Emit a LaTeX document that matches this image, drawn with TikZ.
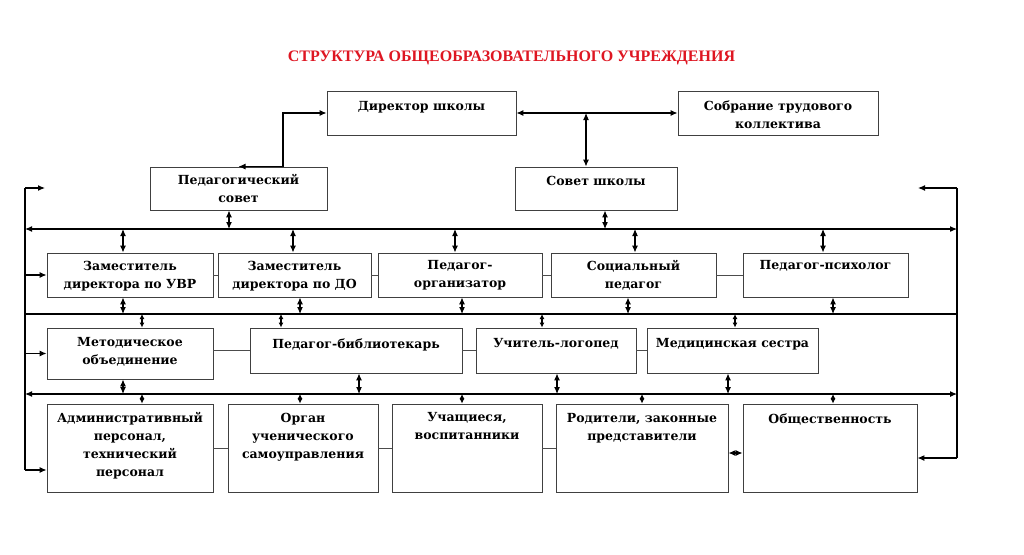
\documentclass[tikz,border=0pt]{standalone}
\usepackage{fontspec}
\setmainfont{Liberation Serif}
\newfontfamily\boxfont{DejaVu Serif}
\usetikzlibrary{arrows.meta}

\begin{document}
\begin{tikzpicture}[
        x=1pt, y=-1pt,
        >={Latex[length=7pt, width=6pt]},
        line cap=butt,
        unit/.style={draw=black!75, line width=0.9pt, inner sep=0pt},
        unit text/.style={font=\boxfont\fontsize{12.5}{18}\selectfont\bfseries, align=center, anchor=north, inner sep=0pt},
        bus/.style={line width=1.1pt},
        link/.style={line width=0.8pt, black!70},
        feed/.style={->, line width=1.1pt},
        duplex/.style={<->, line width=1.1pt},
        short duplex/.style={{Latex[length=5pt, width=5pt]}-{Latex[length=5pt, width=5pt]}, line width=1.1pt},
    ]
    \useasboundingbox (0,0) rectangle (1024,554);

    \node[font=\fontsize{16}{18}\selectfont\bfseries, text={rgb,255:red,222;green,22;blue,34}] (title) at (511.5,58)
        {СТРУКТУРА ОБЩЕОБРАЗОВАТЕЛЬНОГО УЧРЕЖДЕНИЯ};

    % Governing bodies
    \node[unit, minimum width=189, minimum height=44] (director) at (421.5,113) {};
    \node[unit, minimum width=200, minimum height=44] (assembly) at (778,113) {};
    \node[unit, minimum width=177, minimum height=43] (pedcouncil) at (238.5,188.5) {};
    \node[unit, minimum width=162, minimum height=43] (schcouncil) at (596,188.5) {};

    \node[unit text] (director text) at ([yshift=-11pt]director.north) {Директор школы};
    \node[unit text] (assembly text) at ([yshift=-10pt]assembly.north) {Собрание трудового\\коллектива};
    \node[unit text] (pedcouncil text) at ([yshift=-8pt]pedcouncil.north) {Педагогический\\совет};
    \node[unit text] (schcouncil text) at ([yshift=-9pt]schcouncil.north) {Совет школы};

    % Deputies and specialists
    \node[unit, minimum width=166, minimum height=44] (deputyuvr) at (130,275) {};
    \node[unit, minimum width=153, minimum height=44] (deputydo) at (294.5,275) {};
    \node[unit, minimum width=164, minimum height=44] (organizer) at (460,275) {};
    \node[unit, minimum width=165, minimum height=44] (social) at (633.5,275) {};
    \node[unit, minimum width=165, minimum height=44] (psych) at (825.5,275) {};

    \node[unit text] (deputyuvr text) at ([yshift=-8pt]deputyuvr.north) {Заместитель\\директора по УВР};
    \node[unit text] (deputydo text) at ([yshift=-8pt]deputydo.north) {Заместитель\\директора по ДО};
    \node[unit text] (organizer text) at ([yshift=-8pt]organizer.north) {Педагог-\\организатор};
    \node[unit text] (social text) at ([yshift=-8pt]social.north) {Социальный\\педагог};
    \node[unit text] (psych text) at ([yshift=-8pt]psych.north) {Педагог-психолог};

    \node[unit, minimum width=166, minimum height=51] (method) at (130,353.5) {};
    \node[unit, minimum width=212, minimum height=45] (librarian) at (356,350.5) {};
    \node[unit, minimum width=160, minimum height=45] (speech) at (556,350.5) {};
    \node[unit, minimum width=171, minimum height=45] (nurse) at (732.5,350.5) {};

    \node[unit text] (method text) at ([yshift=-10pt]method.north) {Методическое\\объединение};
    \node[unit text] (librarian text) at ([yshift=-11pt]librarian.north) {Педагог-библиотекарь};
    \node[unit text] (speech text) at ([yshift=-11pt]speech.north) {Учитель-логопед};
    \node[unit text] (nurse text) at ([yshift=-11pt]nurse.north) {Медицинская сестра};

    % Participants
    \node[unit, minimum width=166, minimum height=88] (staff) at (130,448) {};
    \node[unit, minimum width=150, minimum height=88] (selfgov) at (303,448) {};
    \node[unit, minimum width=150, minimum height=88] (pupils) at (467,448) {};
    \node[unit, minimum width=172, minimum height=88] (parents) at (642,448) {};
    \node[unit, minimum width=174, minimum height=88] (public) at (830,448) {};

    \node[unit text] (staff text) at ([yshift=-9pt]staff.north) {Административный\\персонал,\\технический\\персонал};
    \node[unit text] (selfgov text) at ([yshift=-9pt]selfgov.north) {Орган\\ученического\\самоуправления};
    \node[unit text] (pupils text) at ([yshift=-9pt]pupils.north) {Учащиеся,\\воспитанники};
    \node[unit text] (parents text) at ([yshift=-10pt]parents.north) {Родители, законные\\представители};
    \node[unit text] (public text) at ([yshift=-10pt]public.north) {Общественность};

    % Bus lines and side rails
    \coordinate (rail l top) at (25,188);
    \coordinate (rail l bot) at (25,470);
    \coordinate (rail r top) at (957,188);
    \coordinate (rail r bot) at (957,458);
    \coordinate (bus1 l) at (25,229);
    \coordinate (bus1 r) at (957,229);
    \coordinate (bus2 l) at (25,314);
    \coordinate (bus2 r) at (957,314);
    \coordinate (bus3 l) at (25,394);
    \coordinate (bus3 r) at (957,394);
    \coordinate (junction) at (586,113);

    \draw[bus] (rail l top) -- (rail l bot);
    \draw[bus] (rail r top) -- (rail r bot);
    \draw[duplex] (bus1 l) -- (bus1 r);
    \draw[bus] (bus2 l) -- (bus2 r);
    \draw[duplex] (bus3 l) -- (bus3 r);

    \draw[feed] (rail l top) -- ++(20,0);
    \draw[feed] (rail r top) -- ++(-39,0);
    \draw[feed] (rail l top |- deputyuvr.west) -- (deputyuvr.west);
    \draw[feed] (rail l top |- method.west) -- (method.west);
    \draw[feed] (rail l bot) -- (rail l bot -| staff.west);
    \draw[feed] (rail r bot) -- (rail r bot -| public.east);

    % Top of the chart
    \draw[duplex] (director.east) -- (assembly.west);
    \draw[duplex] (junction) -- (junction |- schcouncil.north);
    \draw[duplex] (pedcouncil.north) -- ++(44.5,0) |- (director.west);
    \draw[duplex] ([xshift=-9.5pt]pedcouncil.south) -- ([xshift=-9.5pt]pedcouncil.south |- bus1 l);
    \draw[duplex] ([xshift=9pt]schcouncil.south) -- ([xshift=9pt]schcouncil.south |- bus1 l);

    % Bus 1 to deputies and specialists
    \foreach \unit/\dx in {deputyuvr/-7, deputydo/-1.5, organizer/-5, social/1.5, psych/-2.5}
        \draw[duplex] ([xshift=\dx pt]\unit.north |- bus1 l) -- ([xshift=\dx pt]\unit.north);
    \foreach \unit/\dx in {deputyuvr/-7, deputydo/5.5, organizer/2, social/-5.5, psych/7.5}
        \draw[duplex] ([xshift=\dx pt]\unit.south) -- ([xshift=\dx pt]\unit.south |- bus2 l);

    % Bus 2 to the third row, third row to bus 3
    \foreach \unit/\dx in {method/12, librarian/-75, speech/-14, nurse/2.5}
        \draw[short duplex] ([xshift=\dx pt]\unit.north |- bus2 l) -- ([xshift=\dx pt]\unit.north);
    \foreach \unit/\dx in {method/-7, librarian/3, speech/1, nurse/-4.5}
        \draw[duplex] ([xshift=\dx pt]\unit.south) -- ([xshift=\dx pt]\unit.south |- bus3 l);

    % Bus 3 to participants
    \foreach \unit/\dx in {staff/12, selfgov/-3, pupils/-5, parents/0, public/3}
        \draw[short duplex] ([xshift=\dx pt]\unit.north |- bus3 l) -- ([xshift=\dx pt]\unit.north);

    % Links inside the rows
    \draw[link] (deputyuvr) -- (deputydo);
    \draw[link] (deputydo) -- (organizer);
    \draw[link] (organizer) -- (social);
    \draw[link] (social) -- (psych);
    \draw[link] (method.east |- librarian) -- (librarian);
    \draw[link] (librarian) -- (speech);
    \draw[link] (speech) -- (nurse);
    \draw[link] (staff) -- (selfgov);
    \draw[link] (selfgov) -- (pupils);
    \draw[link] (pupils) -- (parents);
    \draw[duplex] ([yshift=-5pt]parents.east) -- ([yshift=-5pt]parents.east -| public.west);
\end{tikzpicture}
\end{document}
